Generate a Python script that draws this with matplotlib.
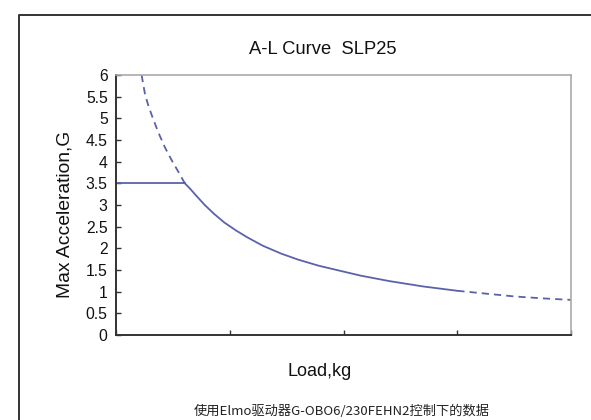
import matplotlib.pyplot as plt
from matplotlib.lines import Line2D

plt.rcParams['font.family'] = ['Liberation Sans', 'DejaVu Sans']

# values (x axis has no labels, 4 equal divisions)
x_dash_top = [0.225, 0.254, 0.28, 0.313, 0.371, 0.43, 0.488, 0.547, 0.605]
y_dash_top = [6.0, 5.57, 5.33, 5.08, 4.68, 4.33, 4.04, 3.77, 3.5]

x_flat = [0.0, 0.605]
y_flat = [3.5, 3.5]

x_solid = [0.605, 0.65, 0.7, 0.78, 0.86, 0.95, 1.05, 1.15, 1.29, 1.45, 1.6,
           1.78, 1.94, 2.15, 2.4, 2.7, 3.0]
y_solid = [3.5, 3.38, 3.23, 3.0, 2.8, 2.6, 2.42, 2.26, 2.06, 1.88, 1.74,
           1.6, 1.5, 1.37, 1.245, 1.12, 1.02]

x_dash_end = [3.0, 3.25, 3.5, 3.75, 4.0]
y_dash_end = [1.02, 0.955, 0.89, 0.845, 0.81]

y_ticks = [0, 0.5, 1, 1.5, 2, 2.5, 3, 3.5, 4, 4.5, 5, 5.5, 6]
y_labels = ['0', '0.5', '1', '1.5', '2', '2.5', '3', '3.5', '4', '4.5', '5', '5.5', '6']
x_ticks = [0, 1, 2, 3, 4]

col = '#5a62aa'

fig = plt.figure(figsize=(5.91, 4.2), dpi=100)
ax = fig.add_axes([0.1963, 0.2024, 0.77, 0.619])

ax.plot(x_dash_top, y_dash_top, color=col, lw=1.3, dashes=(4, 2.8))
ax.plot(x_flat, y_flat, color=col, lw=1.3)
ax.plot(x_solid, y_solid, color=col, lw=1.3)
ax.plot(x_dash_end, y_dash_end, color=col, lw=1.3, dashes=(4, 2.8))

ax.set_xlim(0, 4)
ax.set_ylim(0, 6)
ax.set_yticks(y_ticks)
ax.set_yticklabels(y_labels, fontsize=11.3)
ax.set_xticks(x_ticks)
ax.set_xticklabels([])
ax.tick_params(direction='in', length=3.5, width=1, colors='#333333', pad=6)
ax.tick_params(axis='y', labelcolor='#111111')

for s in ['left', 'bottom']:
    ax.spines[s].set_color('#333333')
    ax.spines[s].set_linewidth(1.4)
for s in ['top', 'right']:
    ax.spines[s].set_color('#aaaaaa')
    ax.spines[s].set_linewidth(1.2)

fig.text(322.5 / 591, 1 - 50 / 420, 'A-L Curve  SLP25', fontsize=13.2,
         ha='center', va='center', color='#111111')
fig.text(65 / 591, 1 - 214 / 420, 'Max Acceleration,G', fontsize=13.9,
         rotation=90, ha='center', va='center', color='#111111')
fig.text(320 / 591, 1 - 372 / 420, 'Load,kg', fontsize=13,
         ha='center', va='center', color='#111111')
fig.text(341.5 / 591, 1 - 411 / 420, '使用Elmo驱动器G-OBO6/230FEHN2控制下的数据',
         fontsize=9.5, ha='center', va='center', color='#222222',
         family=['Noto Sans CJK SC', 'DejaVu Sans'])

# outer frame (left and top edges only visible)
fig.add_artist(Line2D([19 / 591, 19 / 591, 1.0], [0.0, 1 - 15 / 420, 1 - 15 / 420],
                      transform=fig.transFigure, color='#333333', lw=1.4))

fig.savefig('out.png', dpi=100)
